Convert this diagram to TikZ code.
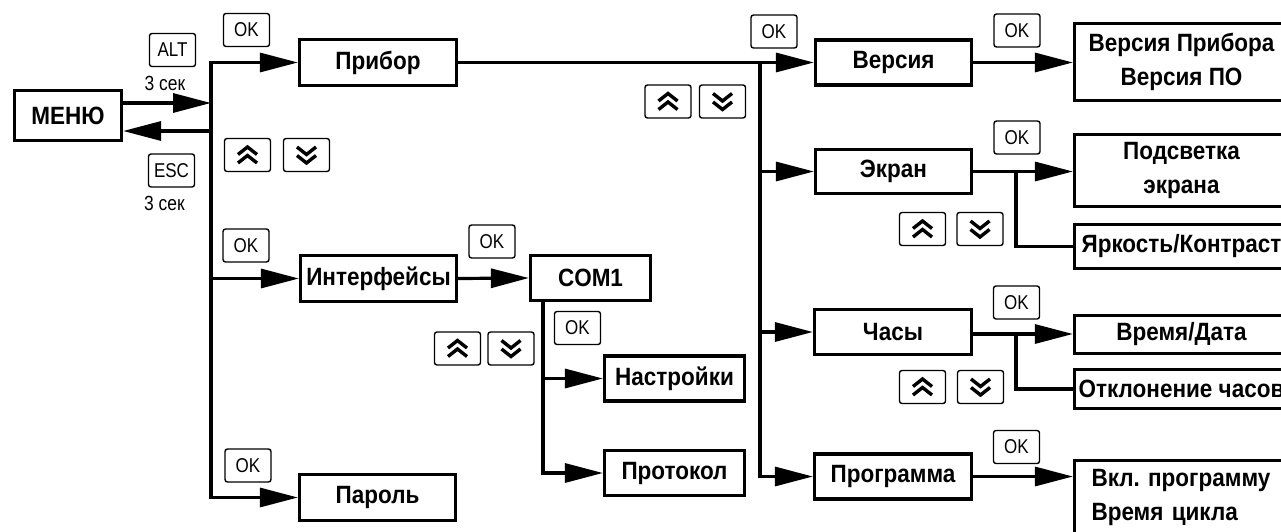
\documentclass[tikz,border=0pt]{standalone}
\usepackage{fontspec}
\setmainfont{Liberation Sans}
\newfontfamily\keyfont[FakeStretch=0.85]{Liberation Sans}
\newfontfamily\boxfont[FakeStretch=0.9]{Liberation Sans}
\usetikzlibrary{arrows.meta,calc}
\begin{document}
\frenchspacing
\begin{tikzpicture}[x=1pt,y=-1pt,
  box/.style={draw,line width=3.2pt,inner sep=0pt,align=center,
    font=\boxfont\bfseries\fontsize{25}{34}\selectfont},
  key/.style={draw,line width=1.4pt,rounded corners=2.5pt,minimum width=46pt,
    minimum height=33pt,inner sep=0pt,font=\keyfont\fontsize{20}{20}\selectfont},
  chev/.style={draw,line width=3.4pt,sharp corners,line join=miter,line cap=butt},
  upkey/.style={key,path picture={
    \draw[chev] ([shift={(-9.5pt,0.5pt)}]path picture bounding box.center) -- ++(9.5pt,7.5pt) -- ++(9.5pt,-7.5pt);
    \draw[chev] ([shift={(-9.5pt,-8pt)}]path picture bounding box.center) -- ++(9.5pt,7.5pt) -- ++(9.5pt,-7.5pt);}},
  dnkey/.style={key,path picture={
    \draw[chev] ([shift={(-9.5pt,8pt)}]path picture bounding box.center) -- ++(9.5pt,-7.5pt) -- ++(9.5pt,7.5pt);
    \draw[chev] ([shift={(-9.5pt,-0.5pt)}]path picture bounding box.center) -- ++(9.5pt,-7.5pt) -- ++(9.5pt,7.5pt);}},
  conn/.style={line width=3.2pt,line cap=rect},
  arr/.style={conn,-{Triangle[length=38pt,width=19pt]}},
  lbl/.style={inner sep=0pt,font=\keyfont\fontsize{20.5}{20}\selectfont}]
\useasboundingbox (0,0) rectangle (1281,532);
\clip (0,0) rectangle (1281,532);

% main boxes
\node[box,minimum width=107,minimum height=50] (menu) at (68,115.5) {МЕНЮ};
\node[box,minimum width=157,minimum height=46] (pribor) at (378,62.5) {Прибор};
\node[box,minimum width=156,minimum height=46] (interf) at (378.5,278.5) {Интерфейсы};
\node[box,minimum width=156,minimum height=46] (parol) at (377.5,497.5) {Пароль};
\node[box,minimum width=120,minimum height=45] (com1) at (590.5,278) {COM1};
\node[box,minimum width=140,minimum height=45] (nastr) at (674.5,378.5) {Настройки};
\node[box,minimum width=140,minimum height=45] (protokol) at (674.5,473) {Протокол};
\node[box,minimum width=156,minimum height=45] (versiya) at (893.5,62.5) {Версия};
\node[box,minimum width=156,minimum height=44] (ekran) at (893.5,171.5) {Экран};
\node[box,minimum width=157,minimum height=45] (chasy) at (893,332) {Часы};
\node[box,minimum width=157,minimum height=45] (programma) at (893,476.5) {Программа};
\node[box,minimum width=214,minimum height=77] (vp) at (1181.5,62) {Версия Прибора\\Версия ПО};
\node[box,minimum width=214,minimum height=72] (podsv) at (1181.5,170.5) {Подсветка\\экрана};
\node[box,minimum width=214,minimum height=44] (yark) at (1181.5,246.5) {Яркость/Контраст};
\node[box,minimum width=214,minimum height=38] (vremya) at (1181.5,334.5) {Время/Дата};
\node[box,minimum width=214,minimum height=39] (otkl) at (1181.5,389) {Отклонение часов};
\node[box,align=left,text width=190pt,inner xsep=17pt,minimum height=73] (vkl) at (1186.5,497)
  {Вкл. программу\\Время цикла};

% keys
\node[key] (ok1) at (246.5,30) {OK};
\node[key] (alt) at (172.5,50) {ALT};
\node[key] (esc) at (171.5,170.5) {ESC};
\node[upkey] (up1) at (247.5,155) {};
\node[dnkey] (dn1) at (306.5,155) {};
\node[key] (ok2) at (246,245.5) {OK};
\node[key] (ok3) at (492,241.5) {OK};
\node[key] (ok4) at (577.5,328) {OK};
\node[upkey] (up2) at (457.5,348.5) {};
\node[dnkey] (dn2) at (511,348.5) {};
\node[key] (ok5) at (248,465.5) {OK};
\node[key] (ok6) at (774,31.5) {OK};
\node[upkey] (up3) at (668,101.5) {};
\node[dnkey] (dn3) at (722.5,101.5) {};
\node[key] (ok7) at (1017,30.5) {OK};
\node[key] (ok8) at (1017,137.5) {OK};
\node[upkey] (up4) at (922.5,229) {};
\node[dnkey] (dn4) at (980,229) {};
\node[key] (ok9) at (1016.5,302.5) {OK};
\node[upkey] (up5) at (922.5,387) {};
\node[dnkey] (dn5) at (980.5,387) {};
\node[key] (ok10) at (1016.5,447) {OK};

\node[lbl] (sec1) at (165,83) {3 сек};
\node[lbl] (sec2) at (164.5,203) {3 сек};

% bus coordinates
\coordinate (bus1) at (211,62);
\coordinate (altin) at (211,103);
\coordinate (escout) at (211,131);
\coordinate (bus2) at (760,63);
\coordinate (bus3) at (543,302);
\coordinate (j1) at (1016,173);
\coordinate (j2) at (1016,334);

% menu connections
\draw[arr] (menu.east |- altin) -- (altin);
\draw[arr] (escout) -- (menu.east |- escout);

% bus 1
\draw[arr] (bus1 |- pribor.west) -- (pribor.west);
\draw[arr] (bus1 |- pribor.west) -- (bus1 |- parol.west) -- (parol.west);
\draw[arr] (bus1 |- interf.west) -- (interf.west);

% interfaces
\draw[arr] (interf.east) -- (com1.west);
\draw[arr] (bus3 |- com1.south) -- (bus3 |- protokol.west) -- (protokol.west);
\draw[arr] (bus3 |- nastr.west) -- (nastr.west);

% bus 2
\draw[arr] (pribor.east) -- (versiya.west);
\draw[arr] (bus2 |- versiya.west) -- (bus2 |- programma.west) -- (programma.west);
\draw[arr] (bus2 |- ekran.west) -- (ekran.west);
\draw[arr] (bus2 |- chasy.west) -- (chasy.west);

% right column
\draw[arr] (versiya.east) -- (versiya.east -| vp.west);
\draw[arr] (ekran.east) -- (ekran.east -| podsv.west);
\draw[conn] (j1 |- ekran.east) -- (j1 |- yark.west) -- (yark.west);
\draw[arr] (chasy.east |- j2) -- (j2 -| vremya.west);
\draw[conn] (j2) -- (j2 |- otkl.west) -- (otkl.west);
\draw[arr] (programma.east) -- (programma.east -| vkl.west);
\end{tikzpicture}
\end{document}
